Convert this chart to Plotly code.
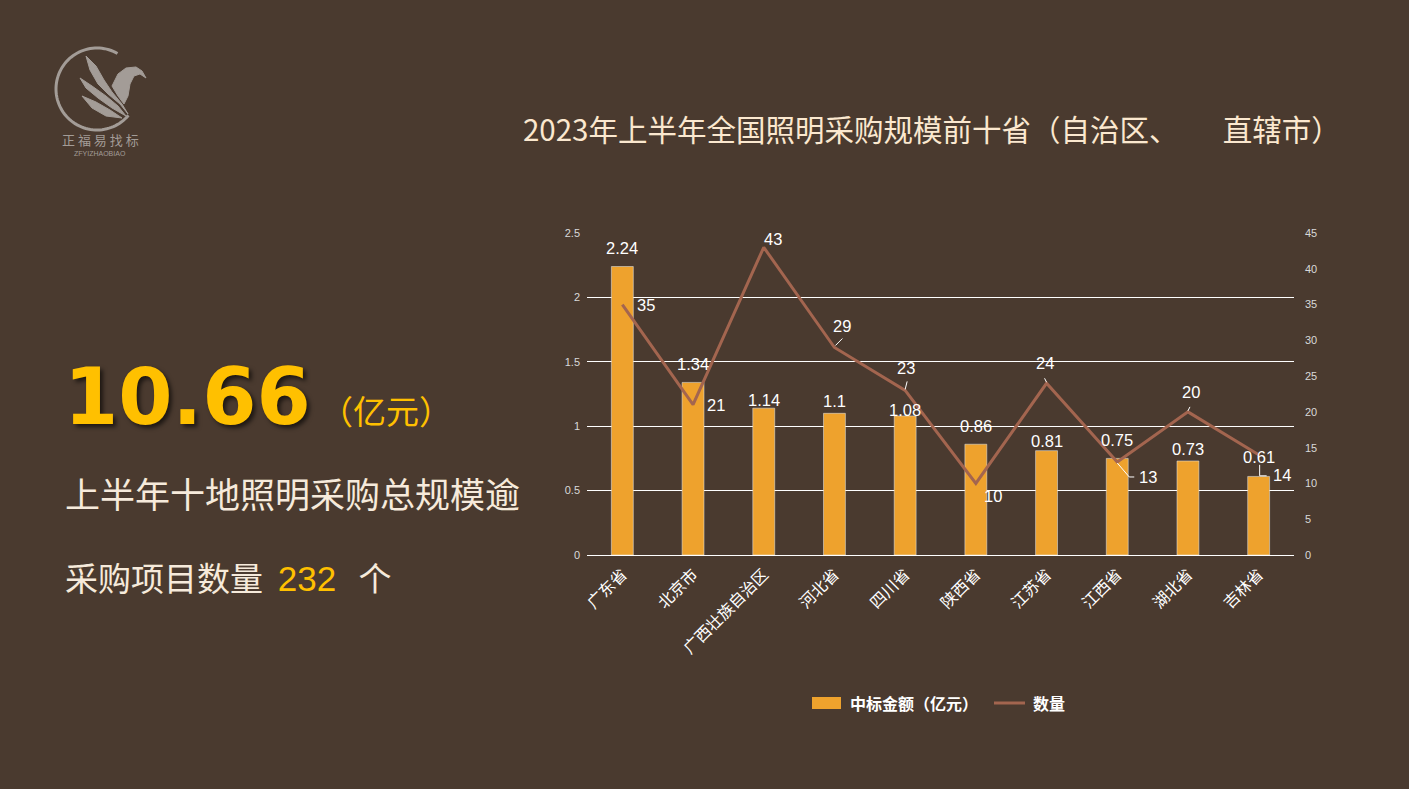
import plotly.graph_objects as go
import numpy as np

# ---------------- data ----------------
provinces = ["广东省", "北京市", "广西壮族自治区", "河北省", "四川省",
             "陕西省", "江苏省", "江西省", "湖北省", "吉林省"]
amount = [2.24, 1.34, 1.14, 1.1, 1.08, 0.86, 0.81, 0.75, 0.73, 0.61]   # 中标金额（亿元）
count = [35, 21, 43, 29, 23, 10, 24, 13, 20, 14]                        # 数量
amount_ticks = [0, 0.5, 1, 1.5, 2, 2.5]
count_ticks = [0, 5, 10, 15, 20, 25, 30, 35, 40, 45]
series_names = ["中标金额（亿元）", "数量"]

total_amount = "10.66"
total_count = "232"

# ---------------- style ----------------
W, H = 1409, 789
L, R, T, B = 587, 1294, 233, 555
BG = "#4A3A2F"
BAR = "#EEA22D"
LINE = "#A3654F"
CREAM = "#F6EADB"
GOLD = "#FFC000"
CJK = "Noto Sans CJK SC"
LAT = "Liberation Sans"


def px(x):
    return (x - L) / (R - L)


def py(y):
    return (B - y) / (B - T)


# label offsets in pixels (dx, dy up)
bar_lab_shift = [18, 18, 8, 12, 6, 18, 10, 18, 12, 19]
line_lab_off = [(24, 0), (23, 0), (9, 8), (8, 21), (1, 22),
                (17, -13), (-2, 20), (31, -15), (3, 20), (23, -20)]
leaders = {
    3: "M 1 2 L 8 9",
    4: "M 0 1 L 2 9",
    6: "M 0 1 L -2 5",
    8: "M 0 1 L 2 5",
    7: "M 0 -1 L 12 -15 L 17 -15",
    9: "M 1 -10 L 1 -21 L 8 -21",
}

fig = go.Figure()
fig.add_trace(go.Bar(
    x=provinces, y=amount, name=series_names[0], marker_color=BAR,
    width=0.31, yaxis="y",
))
fig.add_trace(go.Scatter(
    x=provinces, y=count, name=series_names[1], mode="lines",
    line=dict(color=LINE, width=3), yaxis="y2",
))

ann = []
for i, (p, v) in enumerate(zip(provinces, amount)):
    ann.append(dict(x=p, y=v, xref="x", yref="y", text=f"{v:g}", showarrow=False,
                    yshift=bar_lab_shift[i], font=dict(family=LAT, size=16.5, color="white")))
for i, (p, v) in enumerate(zip(provinces, count)):
    dx, dy = line_lab_off[i]
    ann.append(dict(x=p, y=v, xref="x", yref="y2", text=str(v), showarrow=False,
                    xshift=dx, yshift=dy, font=dict(family=LAT, size=16.5, color="white")))

shapes = []
for i, path in leaders.items():
    shapes.append(dict(type="path", xref="x", yref="y2", xsizemode="pixel", ysizemode="pixel",
                       xanchor=provinces[i], yanchor=count[i], path=path,
                       line=dict(color="white", width=1)))

# custom legend (wide swatches like the original)
shapes.append(dict(type="rect", xref="paper", yref="paper", x0=px(812), x1=px(841),
                   y0=py(709), y1=py(697), fillcolor=BAR, line=dict(width=0)))
ann.append(dict(x=px(848), y=py(703), xref="paper", yref="paper", xanchor="left", yanchor="middle",
                text=series_names[0], showarrow=False,
                font=dict(family=CJK, size=16, color="white", weight="bold")))
shapes.append(dict(type="line", xref="paper", yref="paper", x0=px(994), x1=px(1025),
                   y0=py(703), y1=py(703), line=dict(color=LINE, width=3)))
ann.append(dict(x=px(1031), y=py(703), xref="paper", yref="paper", xanchor="left", yanchor="middle",
                text=series_names[1], showarrow=False,
                font=dict(family=CJK, size=16, color="white", weight="bold")))

# title
ann.append(dict(x=px(521), y=py(128), xref="paper", yref="paper", xanchor="left", yanchor="middle",
                text="2023年上半年全国照明采购规模前十省（自治区、\u3000\u3000直辖市）",
                showarrow=False, font=dict(family=CJK, size=29.5, color="#FBE8CF")))

# left big texts
ann.append(dict(x=px(62), y=py(397), xref="paper", yref="paper", xanchor="left", yanchor="middle",
                text=f"<b>{total_amount}</b>", showarrow=False,
                font=dict(family="DejaVu Sans", size=78, color=GOLD,
                          shadow="3px 3px 4px rgba(0,0,0,0.6)")))
ann.append(dict(x=px(318), y=py(410), xref="paper", yref="paper", xanchor="left", yanchor="middle",
                text="（亿元）", showarrow=False,
                font=dict(family=CJK, size=33, color=GOLD)))
ann.append(dict(x=px(63), y=py(492), xref="paper", yref="paper", xanchor="left", yanchor="middle",
                text="上半年十地照明采购总规模逾", showarrow=False,
                font=dict(family=CJK, size=35, color=CREAM)))
ann.append(dict(x=px(63), y=py(577), xref="paper", yref="paper", xanchor="left", yanchor="middle",
                text=("采购项目数量\u00a0\u00a0<span style='color:" + GOLD + ";font-family:" + LAT +
                      ";font-size:35px'>" + total_count + "</span>\u00a0\u00a0\u00a0个"),
                showarrow=False, font=dict(family=CJK, size=33, color=CREAM)))

# logo
LOGO = "#A39C97"
cx, cy, r = 97, 89, 41
ang = np.linspace(np.deg2rad(-40), np.deg2rad(-300), 80)
pts = [(cx + r * np.cos(a), cy - r * np.sin(a)) for a in ang]
arc = "M " + " L ".join(f"{px(x):.5f},{py(y):.5f}" for x, y in pts)
shapes.append(dict(type="path", xref="paper", yref="paper", path=arc,
                   line=dict(color=LOGO, width=3)))


def pth(points, close=True):
    s = "M " + " L ".join(f"{px(x):.5f},{py(y):.5f}" for x, y in points)
    return s + (" Z" if close else "")


wing1 = [(86, 56), (96, 66), (104, 80), (112, 92), (122, 104), (128, 114), (120, 104),
         (108, 94), (98, 84), (90, 70)]
wing2 = [(80, 78), (92, 86), (106, 96), (118, 106), (126, 116), (112, 108), (98, 98), (86, 88)]
wing3 = [(82, 96), (96, 102), (110, 110), (122, 118), (106, 116), (92, 108)]
head = [(112, 86), (118, 74), (126, 68), (136, 67), (142, 71), (146, 78), (140, 74), (134, 76),
        (130, 84), (128, 96), (124, 104), (118, 96)]
for poly in (wing1, wing2, wing3, head):
    shapes.append(dict(type="path", xref="paper", yref="paper", path=pth(poly),
                       fillcolor=LOGO, line=dict(color=LOGO, width=1)))
ann.append(dict(x=px(100), y=py(139), xref="paper", yref="paper", xanchor="center", yanchor="middle",
                text="正 福 易 找 标", showarrow=False,
                font=dict(family="Noto Sans CJK SC", size=13, color=LOGO)))
ann.append(dict(x=px(100), y=py(154), xref="paper", yref="paper", xanchor="center", yanchor="middle",
                text="ZFYIZHAOBIAO", showarrow=False, font=dict(family=LAT, size=7, color=LOGO)))

fig.update_layout(
    width=W, height=H,
    paper_bgcolor=BG, plot_bgcolor=BG,
    margin=dict(l=L, r=W - R, t=T, b=H - B, pad=0),
    showlegend=False,
    xaxis=dict(type="category", tickangle=-45, showgrid=False, showline=False, ticks="",
               tickfont=dict(family=CJK, size=16, color="white"), fixedrange=True,
               ticklabelstandoff=6),
    yaxis=dict(range=[0, 2.5], tickvals=amount_ticks, ticktext=[f"{t:g}" for t in amount_ticks],
               showgrid=True, gridcolor="white", gridwidth=1, zeroline=True, zerolinecolor="white",
               zerolinewidth=1, tickfont=dict(family=LAT, size=11, color="#D9D9D9"), ticks="",
               ticklabelstandoff=6),
    yaxis2=dict(range=[0, 45], tickvals=count_ticks, overlaying="y", side="right", showgrid=False,
                zeroline=False, tickfont=dict(family=LAT, size=11, color="#D9D9D9"), ticks="",
                ticklabelstandoff=10),
    annotations=ann,
    shapes=shapes,
    bargap=0.69,
)

fig.write_html(
    "out.html",
    config={"displayModeBar": False},
    post_script="document.body.style.margin='0';document.body.style.background='#4A3A2F';",
)
